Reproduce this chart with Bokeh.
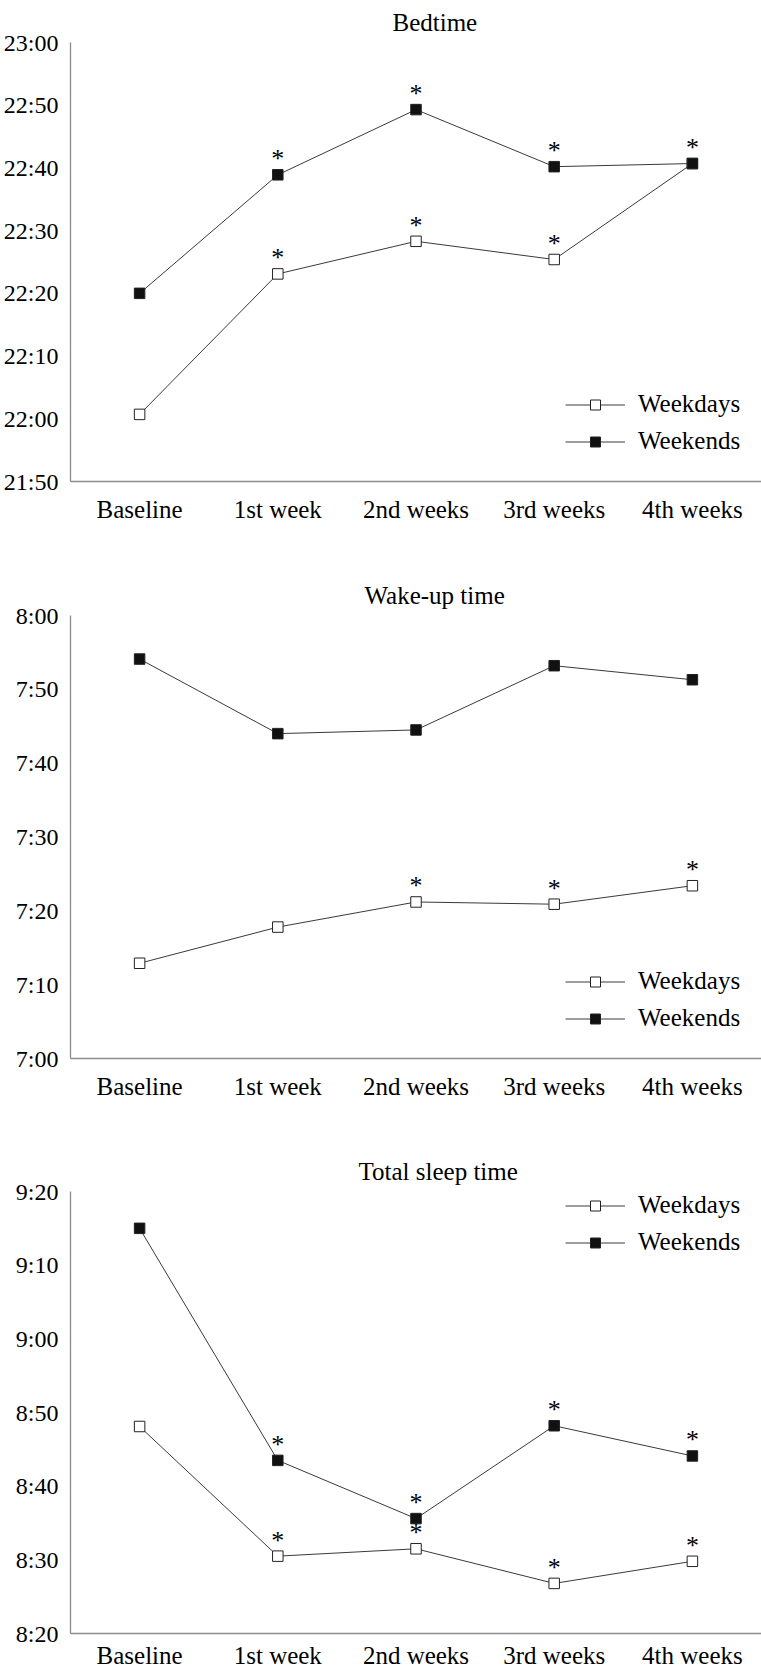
from bokeh.plotting import figure
from bokeh.models import (FactorRange, FixedTicker, Legend, LegendItem, Title,
                          ColumnDataSource, Range1d)
from bokeh.layouts import column
from bokeh.embed import file_html
from bokeh.resources import INLINE
from bokeh.core.properties import value

# ---------------- data ----------------
categories = ["Baseline", "1st week", "2nd weeks", "3rd weeks", "4th weeks"]
series_names = ["Weekdays", "Weekends"]

bed_title = "Bedtime"
bed_ticks = ["21:50", "22:00", "22:10", "22:20", "22:30", "22:40", "22:50", "23:00"]
bed_weekdays = ["22:00.7", "22:23.1", "22:28.3", "22:25.4", "22:40.7"]
bed_weekends = ["22:20.0", "22:38.9", "22:49.3", "22:40.2", "22:40.7"]
bed_weekdays_sig = [0, 1, 1, 1, 0]
bed_weekends_sig = [0, 1, 1, 1, 1]

wake_title = "Wake-up time"
wake_ticks = ["7:00", "7:10", "7:20", "7:30", "7:40", "7:50", "8:00"]
wake_weekdays = ["7:12.9", "7:17.8", "7:21.2", "7:20.9", "7:23.4"]
wake_weekends = ["7:54.1", "7:44.0", "7:44.5", "7:53.2", "7:51.3"]
wake_weekdays_sig = [0, 0, 1, 1, 1]
wake_weekends_sig = [0, 0, 0, 0, 0]

tst_title = "Total sleep time"
tst_ticks = ["8:20", "8:30", "8:40", "8:50", "9:00", "9:10", "9:20"]
tst_weekdays = ["8:48.1", "8:30.5", "8:31.5", "8:26.8", "8:29.8"]
tst_weekends = ["9:15.0", "8:43.5", "8:35.6", "8:48.2", "8:44.1"]
tst_weekdays_sig = [0, 1, 1, 1, 1]
tst_weekends_sig = [0, 1, 1, 1, 1]

# ---------------- styling ----------------
FONT = "Liberation Serif"
AXIS_COLOR = "#8c8c8c"
LINE_COLOR = "#3a3a3a"


def to_min(s):
    h, m = s.split(":")
    return int(h) * 60 + float(m)


def make_panel(title, ticks, wd, we, wd_sig, we_sig, height, top, bottom,
               title_offset, legend_loc, x_standoff):
    tick_vals = [to_min(t) for t in ticks]
    p = figure(x_range=FactorRange(factors=categories),
               y_range=Range1d(tick_vals[0], tick_vals[-1]),
               width=761, height=height, output_backend="svg",
               toolbar_location=None, min_border_left=67, min_border_right=0,
               min_border_top=top, min_border_bottom=bottom)
    p.outline_line_color = None
    p.xgrid.visible = False
    p.ygrid.visible = False

    renderers = []
    for vals, fill in ((wd, "white"), (we, "#111111")):
        src = ColumnDataSource(dict(x=categories, y=[to_min(v) for v in vals]))
        ln = p.line("x", "y", source=src, line_color=LINE_COLOR, line_width=1)
        sc = p.scatter("x", "y", source=src, marker="square", size=10.5,
                       fill_color=fill, line_color="#222222", line_width=1)
        renderers.append((ln, sc))

    # significance asterisks
    for vals, sig in ((wd, wd_sig), (we, we_sig)):
        xs = [c for c, s in zip(categories, sig) if s]
        ys = [to_min(v) for v, s in zip(vals, sig) if s]
        if xs:
            p.text(x=xs, y=ys, text=value("*"), text_font=value(FONT),
                   text_font_size="26px", text_align="center",
                   text_baseline="alphabetic", y_offset=-16, text_color="black")

    items = [LegendItem(label=n, renderers=list(r)) for n, r in zip(series_names, renderers)]
    legend = Legend(items=items, location=legend_loc, glyph_width=60,
                    glyph_height=25, label_standoff=13, spacing=9, padding=0,
                    margin=0, border_line_color=None, background_fill_alpha=0,
                    label_text_font=FONT, label_text_font_size="25px",
                    label_text_color="black", label_height=25)
    p.add_layout(legend)

    p.add_layout(Title(text=title, align="left", offset=title_offset,
                       standoff=13, text_font=FONT,
                       text_font_size="25px", text_font_style="normal",
                       text_color="black"), "above")

    for ax in (p.xaxis[0], p.yaxis[0]):
        ax.axis_line_color = AXIS_COLOR
        ax.axis_line_width = 1.3
        ax.major_tick_line_color = None
        ax.minor_tick_line_color = None
        ax.major_tick_in = 0
        ax.major_tick_out = 0
        ax.major_label_text_font = FONT
        ax.major_label_text_color = "black"
    p.xaxis.major_label_text_font_size = "25px"
    p.xaxis.major_label_standoff = x_standoff
    p.yaxis.major_label_text_font_size = "24px"
    p.yaxis.major_label_standoff = 12
    p.yaxis.ticker = FixedTicker(ticks=tick_vals)
    p.yaxis.major_label_overrides = {int(round(v)): t for v, t in zip(tick_vals, ticks)}
    return p


p1 = make_panel(bed_title, bed_ticks, bed_weekdays, bed_weekends,
                bed_weekdays_sig, bed_weekends_sig, 563, 38, 82, 322,
                (495, 26), 14)
p2 = make_panel(wake_title, wake_ticks, wake_weekdays, wake_weekends,
                wake_weekdays_sig, wake_weekends_sig, 577, 52, 82, 294,
                (495, 26), 14)
p3 = make_panel(tst_title, tst_ticks, tst_weekdays, tst_weekends,
                tst_weekdays_sig, tst_weekends_sig, 531, 51, 37, 288,
                (495, 377), 8)

layout = column(p1, p2, p3, spacing=0)
open("out.html", "w").write(file_html(layout, INLINE))
